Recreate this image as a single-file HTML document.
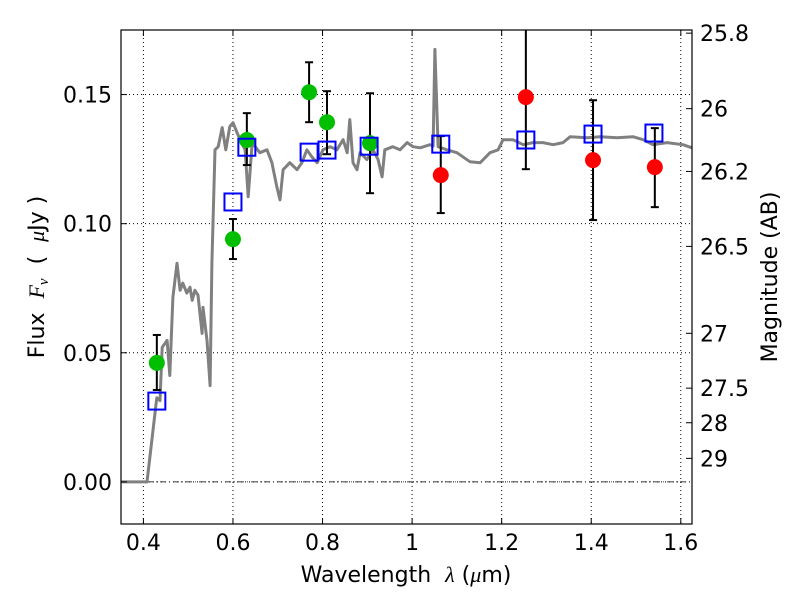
<!DOCTYPE html>
<html><head><meta charset="utf-8"><style>
body{margin:0;background:#fff;}
svg text{font-family:"DejaVu Sans","Liberation Sans",sans-serif;fill:#000;white-space:pre;}
</style></head><body>
<svg id="chart" width="800" height="600" xmlns="http://www.w3.org/2000/svg">
<rect width="800" height="600" fill="#fff"/>
<g id="grid"></g>
<g id="spec"></g>
<g id="pts"></g>
<g id="axes"></g>
</svg>
<script>
const specLam=[0.35,0.408,0.430,0.437,0.442,0.453,0.459,0.466,0.475,0.482,0.488,0.497,0.504,0.509,0.515,0.522,0.531,0.533,0.542,0.549,0.553,0.560,0.567,0.576,0.584,0.593,0.600,0.609,0.616,0.627,0.634,0.643,0.660,0.676,0.687,0.698,0.705,0.712,0.727,0.743,0.754,0.765,0.776,0.788,0.801,0.817,0.832,0.846,0.855,0.861,0.868,0.877,0.884,0.899,0.913,0.924,0.933,0.939,0.957,0.973,0.989,1.002,1.018,1.040,1.047,1.051,1.058,1.078,1.100,1.129,1.152,1.174,1.192,1.203,1.225,1.248,1.270,1.292,1.315,1.337,1.353,1.391,1.420,1.458,1.493,1.516,1.538,1.569,1.605,1.625];
const specFlux=[0,0,0.0326,0.0315,0.0521,0.0548,0.0412,0.0715,0.0847,0.0742,0.0770,0.0731,0.0754,0.0703,0.0742,0.0723,0.0575,0.0676,0.0548,0.0373,0.0847,0.1286,0.1298,0.1372,0.1286,0.1376,0.1391,0.1353,0.1325,0.1286,0.1104,0.1314,0.1275,0.1286,0.1236,0.1143,0.1092,0.1209,0.1236,0.1209,0.1236,0.1286,0.1259,0.1236,0.1286,0.1298,0.1286,0.1325,0.1275,0.1403,0.1236,0.1209,0.1275,0.1248,0.1286,0.1248,0.1181,0.1286,0.1298,0.1286,0.1314,0.1298,0.1294,0.1306,0.1300,0.1675,0.1298,0.1286,0.1275,0.1240,0.1236,0.1275,0.1286,0.1325,0.1325,0.1306,0.1314,0.1314,0.1306,0.1314,0.1337,0.1333,0.1337,0.1333,0.1337,0.1325,0.1306,0.1314,0.1306,0.1294];
const greenLam=[0.430,0.600,0.631,0.770,0.810,0.906];
const greenFlux=[0.0461,0.0940,0.1324,0.1509,0.1393,0.1312];
const greenHi=[0.0569,0.1018,0.1428,0.1625,0.1513,0.1505];
const greenLo=[0.0356,0.0863,0.1227,0.1393,0.1269,0.1118];
const redLam=[1.064,1.254,1.404,1.542];
const redFlux=[0.1188,0.1490,0.1246,0.1219];
const redHi=[0.1339,0.19,0.1478,0.1370];
const redLo=[0.1041,0.1211,0.1014,0.1064];
const modelLam=[0.430,0.600,0.631,0.770,0.810,0.904,1.064,1.254,1.404,1.540];
const modelFlux=[0.0313,0.1084,0.1296,0.1277,0.1285,0.1300,0.1308,0.1324,0.1347,0.1351];
const xTicks=[0.4,0.6,0.8,1.0,1.2,1.4,1.6];
const xTickLabels=["0.4","0.6","0.8","1","1.2","1.4","1.6"];
const yTicks=[0,0.05,0.10,0.15];
const yTickLabels=["0.00","0.05","0.10","0.15"];
const magTicks=[25.8,26,26.2,26.5,27,27.5,28,29];

const L=121,R=692,T=30,B=524,X0=0.35,X1=1.625,Y0=-0.0163,Y1=0.175;
const xs=v=>L+(v-X0)/(X1-X0)*(R-L);
const ys=v=>B-(v-Y0)/(Y1-Y0)*(B-T);
const NS="http://www.w3.org/2000/svg";
function mk(tag,attrs,parent){const e=document.createElementNS(NS,tag);for(const k in attrs)e.setAttribute(k,attrs[k]);parent.appendChild(e);return e;}
const grid=document.getElementById('grid'),spec=document.getElementById('spec'),pts=document.getElementById('pts'),axes=document.getElementById('axes');

xTicks.forEach((t,i)=>{const x=xs(t);
 let g=mk('line',{x1:x,x2:x,y1:T,y2:B,stroke:'#000','stroke-width':1,'stroke-dasharray':'1,3'},grid);
 
 mk('line',{x1:x,x2:x,y1:B,y2:B-6,stroke:'#000'},axes);mk('line',{x1:x,x2:x,y1:T,y2:T+6,stroke:'#000'},axes);
 let tx=mk('text',{x:x,y:B+26,'text-anchor':'middle','font-size':22},axes);tx.textContent=xTickLabels[i];
 });
yTicks.forEach((t,i)=>{const y=ys(t);
 let g=mk('line',{x1:L,x2:R,y1:y,y2:y,stroke:'#000','stroke-width':1,'stroke-dasharray':'1,3'},grid);
 
 mk('line',{x1:L,x2:L+6,y1:y,y2:y,stroke:'#000'},axes);
 let tx=mk('text',{x:L-9,y:y+8,'text-anchor':'end','font-size':22},axes);tx.textContent=yTickLabels[i];
 });
let zl=mk('line',{x1:L,x2:R,y1:ys(0),y2:ys(0),stroke:'#000','stroke-width':0.8,'stroke-dasharray':'6,3,1,3'},grid);


let d=specLam.map((l,i)=>(i?'L':'M')+xs(l).toFixed(1)+','+ys(specFlux[i]).toFixed(1)).join('');
let sp=mk('path',{d:d,fill:'none',stroke:'#808080','stroke-width':3,'stroke-linejoin':'round'},spec);


function errbars(lam,hi,lo,name){lam.forEach((l,i)=>{const x=xs(l),y1=Math.max(ys(hi[i]),T),y2=ys(lo[i]);
 let g=mk('g',{},pts);
 mk('line',{x1:x,x2:x,y1:y1,y2:y2,stroke:'#000','stroke-width':2},g);
 if(ys(hi[i])>=T)mk('line',{x1:x-4,x2:x+4,y1:y1,y2:y1,stroke:'#000','stroke-width':2},g);
 mk('line',{x1:x-4,x2:x+4,y1:y2,y2:y2,stroke:'#000','stroke-width':2},g);});}
errbars(greenLam,greenHi,greenLo,'green-errorbar');
errbars(redLam,redHi,redLo,'red-errorbar');
greenLam.forEach((l,i)=>{let c=mk('circle',{cx:xs(l),cy:ys(greenFlux[i]),r:8,fill:'#00bf00'},pts);
 });
redLam.forEach((l,i)=>{let c=mk('circle',{cx:xs(l),cy:ys(redFlux[i]),r:8,fill:'#ff0000'},pts);
 });
modelLam.forEach((l,i)=>{let r=mk('rect',{x:xs(l)-8.5,y:ys(modelFlux[i])-8.5,width:17,height:17,fill:'none',stroke:'#0000ff','stroke-width':2},pts);
 });

magTicks.forEach(m=>{const f=Math.pow(10,(23.9-m)/2.5),y=ys(f);
 mk('line',{x1:R,x2:R-6,y1:y,y2:y,stroke:'#000'},axes);
 let tx=mk('text',{x:R+8,y:y+8,'font-size':22},axes);tx.textContent=String(m);
 });

let fr=mk('rect',{x:L,y:T,width:R-L,height:B-T,fill:'none',stroke:'#000','stroke-width':1.2},axes);

</script>
<svg style="position:absolute;left:0;top:0" width="800" height="600" xmlns="http://www.w3.org/2000/svg">
<text x="406" y="582" text-anchor="middle" font-size="22">Wavelength&#160;&#160;<tspan font-family="Liberation Serif" font-style="italic">λ</tspan> (<tspan font-family="Liberation Serif" font-style="italic">μ</tspan>m)</text>
<text transform="translate(44,277) rotate(-90)" text-anchor="middle" font-size="22">Flux&#160;&#160;<tspan font-family="Liberation Serif" font-style="italic">F</tspan><tspan font-family="Liberation Serif" font-style="italic" font-size="15" dy="4">ν</tspan><tspan dy="-4">&#160;&#160;(&#160;&#160;</tspan><tspan font-family="Liberation Serif" font-style="italic">μ</tspan>Jy )</text>
<text transform="translate(777,277) rotate(-90)" text-anchor="middle" font-size="22">Magnitude (AB)</text>
</svg>
</body></html>
